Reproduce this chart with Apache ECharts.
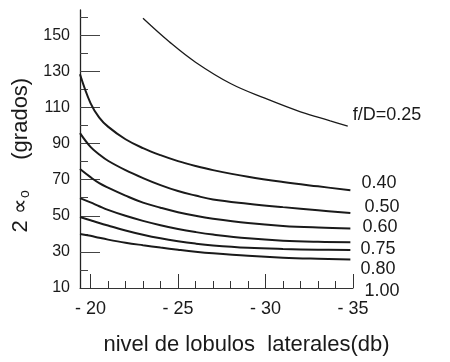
<!DOCTYPE html>
<html>
<head>
<meta charset="utf-8">
<script src="https://cdn.jsdelivr.net/npm/echarts@6/dist/echarts.min.js"></script>
<style>
  html, body { margin: 0; padding: 0; background: #fff; }
  #chart { width: 450px; height: 362px; }
</style>
</head>
<body>
<div id="chart"></div>
<script>
// sample positions along the side-lobe axis (dB)
const xMain = [-19.4, -20, -20.5, -21, -22, -23, -24, -25, -26, -27, -29, -31, -33, -34.85];
const x025 = [-23, -24.5, -26, -28, -30, -32, -33.7, -34.7];

// 2*alpha0 in degrees, one array per f/D value
const fd025 = [159.4, 146.4, 135.1, 123.3, 115.0, 107.6, 102.6, 99.7];
const fd040 = [128.4, 112.4, 104.4, 99.4, 92.4, 87.5, 83.6, 80.3, 77.6, 75.3, 71.6, 68.7, 66.3, 64.2];
const fd050 = [95.8, 88.2, 84.0, 80.5, 75.3, 70.9, 67.0, 63.7, 61.2, 59.0, 56.7, 54.8, 53.1, 51.5];
const fd060 = [75.9, 71.4, 68.1, 65.6, 61.2, 57.3, 54.5, 52.0, 50.0, 48.4, 46.0, 44.4, 43.5, 43.0];
const fd075 = [59.8, 57.4, 55.3, 53.3, 50.0, 47.2, 44.8, 42.7, 41.0, 39.6, 37.5, 36.2, 35.6, 35.4];
const fd080 = [49.3, 47.5, 46.0, 44.6, 41.9, 39.5, 37.5, 35.9, 34.6, 33.6, 32.3, 31.6, 31.2, 31.0];
const fd100 = [39.9, 38.9, 37.8, 36.8, 35.1, 33.7, 32.4, 31.2, 30.1, 29.2, 27.8, 26.8, 26.2, 25.8];

const curveNames = ['f/D=0.25', '0.40', '0.50', '0.60', '0.75', '0.80', '1.00'];

// tick / label values
const yLabels = [10, 30, 50, 70, 90, 110, 130, 150];
const yMajorTicks = [30, 50, 70, 90, 110, 130, 150];
const yMinorTicks = [20, 40, 60, 80, 100, 120, 140, 160];
const xLabels = [-20, -25, -30, -35];
const xMinorTicks = [-21, -22, -23, -24, -26, -27, -28, -29, -31, -32, -33, -34];

const FONT = "'Liberation Sans', Arial, sans-serif";
const INK = '#1a1a1a';

// where each curve's name sits relative to its right end (px)
const labelOffsets = [[5, -11], [11, -7], [14, -6], [12, -1], [10, 7], [10, 19], [14, 32]];
const lineWidths = [1.3, 2, 2, 2, 2, 2, 2];

const curves = [
  [x025, fd025],
  [xMain, fd040],
  [xMain, fd050],
  [xMain, fd060],
  [xMain, fd075],
  [xMain, fd080],
  [xMain, fd100]
];

const series = curves.map(([xs, ys], k) => {
  const last = xs.length - 1;
  return {
    type: 'line',
    name: curveNames[k],
    xAxisIndex: 0,
    yAxisIndex: 0,
    smooth: 0.4,
    symbol: 'circle',
    symbolSize: 0,
    showSymbol: true,
    silent: true,
    animation: false,
    lineStyle: { color: INK, width: lineWidths[k] },
    itemStyle: { color: INK },
    data: xs.map((x, i) => i === last ? {
      value: [x, ys[i]],
      label: {
        show: true,
        position: 'right',
        distance: 0,
        offset: labelOffsets[k],
        formatter: curveNames[k],
        fontFamily: FONT,
        fontSize: 18,
        color: INK
      }
    } : [x, ys[i]])
  };
});

const chart = echarts.init(document.getElementById('chart'), null, { renderer: 'canvas' });

chart.setOption({
  animation: false,
  backgroundColor: '#fff',
  grid: { left: 80, right: 97, top: 10, bottom: 74, containLabel: false },
  xAxis: [{
    type: 'value',
    inverse: true,
    min: -35,
    max: -19.4,
    name: 'nivel de lobulos  laterales(db)',
    nameLocation: 'middle',
    nameGap: 46,
    nameTextStyle: { fontFamily: FONT, fontSize: 22, color: INK, padding: [0, 0, 0, 60] },
    axisLine: { show: true, onZero: false, lineStyle: { color: '#333', width: 1 } },
    axisTick: { show: true, inside: true, length: 14, customValues: xLabels, lineStyle: { color: '#333' } },
    axisLabel: {
      customValues: xLabels,
      margin: 12,
      fontFamily: FONT,
      fontSize: 18,
      color: INK,
      formatter: v => '- ' + Math.abs(v)
    },
    splitLine: { show: false }
  }, {
    type: 'value',
    inverse: true,
    min: -35,
    max: -19.4,
    position: 'bottom',
    axisLine: { show: false },
    axisTick: { show: true, inside: true, length: 7, customValues: xMinorTicks, lineStyle: { color: '#333' } },
    axisLabel: { show: false },
    splitLine: { show: false }
  }],
  yAxis: [{
    type: 'value',
    min: 10,
    max: 164,
    name: '2 ∝{sub|o}     (grados)  ',
    nameLocation: 'middle',
    nameGap: 46,
    nameTextStyle: {
      fontFamily: FONT,
      fontSize: 22,
      color: INK,
      rich: { sub: { fontFamily: FONT, fontSize: 14, color: INK, padding: [8, 0, 0, 0] } }
    },
    axisLine: { show: true, onZero: false, lineStyle: { color: '#222', width: 1.3 } },
    axisTick: { show: true, inside: true, length: 20, customValues: yMajorTicks, lineStyle: { color: '#444' } },
    axisLabel: { customValues: yLabels, margin: 10, fontFamily: FONT, fontSize: 16, color: INK },
    splitLine: { show: false }
  }, {
    type: 'value',
    min: 10,
    max: 164,
    position: 'left',
    axisLine: { show: false },
    axisTick: { show: true, inside: true, length: 8, customValues: yMinorTicks, lineStyle: { color: '#444' } },
    axisLabel: { show: false },
    splitLine: { show: false }
  }],
  series: series
});
</script>
</body>
</html>
